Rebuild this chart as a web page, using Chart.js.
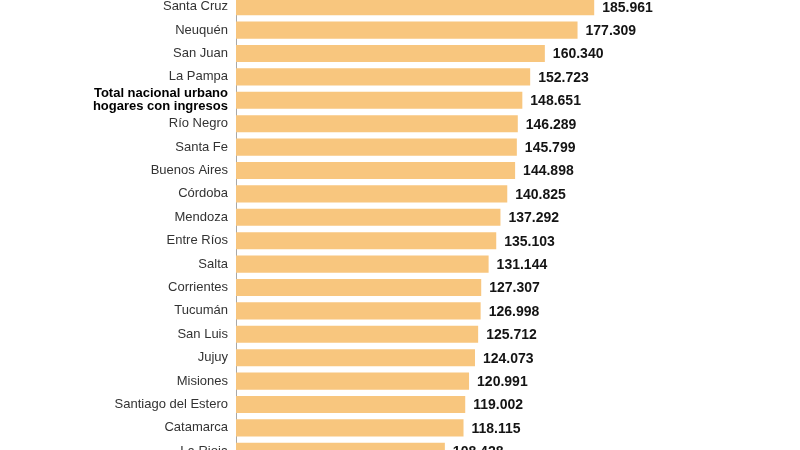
<!DOCTYPE html>
<html>
<head>
<meta charset="utf-8">
<script src="https://cdn.jsdelivr.net/npm/chart.js@4"></script>
<style>
  html, body { margin: 0; padding: 0; background: #ffffff; overflow: hidden; width: 800px; height: 450px; }
  #wrap { position: absolute; left: 0; top: -5px; width: 800px; height: 468px; }
</style>
</head>
<body>
<div id="wrap"><canvas id="c"></canvas></div>
<script>
const categories = [
  'Santa Cruz', 'Neuquén', 'San Juan', 'La Pampa',
  ['Total nacional urbano', 'hogares con ingresos'],
  'Río Negro', 'Santa Fe', 'Buenos Aires', 'Córdoba', 'Mendoza',
  'Entre Ríos', 'Salta', 'Corrientes', 'Tucumán', 'San Luis',
  'Jujuy', 'Misiones', 'Santiago del Estero', 'Catamarca', 'La Rioja'
];
const values = [
  185.961, 177.309, 160.340, 152.723, 148.651,
  146.289, 145.799, 144.898, 140.825, 137.292,
  135.103, 131.144, 127.307, 126.998, 125.712,
  124.073, 120.991, 119.002, 118.115, 108.428
];
const valueLabels = [
  '185.961', '177.309', '160.340', '152.723', '148.651',
  '146.289', '145.799', '144.898', '140.825', '137.292',
  '135.103', '131.144', '127.307', '126.998', '125.712',
  '124.073', '120.991', '119.002', '118.115', '108.428'
];
const highlightIndex = 4;

const valuePlugin = {
  id: 'valueLabels',
  afterDatasetsDraw(chart) {
    const ctx = chart.ctx;
    const meta = chart.getDatasetMeta(0);
    ctx.save();
    ctx.font = 'bold 14px "Liberation Sans", Arial, sans-serif';
    ctx.fillStyle = '#141414';
    ctx.textAlign = 'left';
    ctx.textBaseline = 'middle';
    meta.data.forEach((bar, i) => {
      ctx.fillText(valueLabels[i], bar.x + 8, bar.y + 1);
    });
    ctx.restore();
  }
};

new Chart(document.getElementById('c'), {
  type: 'bar',
  data: {
    labels: categories,
    datasets: [{
      data: values,
      backgroundColor: '#F8C67E',
      borderWidth: 0,
      barPercentage: 0.73,
      categoryPercentage: 1.0
    }]
  },
  options: {
    indexAxis: 'y',
    responsive: true,
    maintainAspectRatio: false,
    animation: false,
    layout: { padding: 0 },
    plugins: { legend: { display: false }, tooltip: { enabled: false } },
    scales: {
      x: { display: false, min: 0, max: 292.8 },
      y: {
        afterFit(scale) {
          scale.width = 236;
          scale.paddingTop = 0;
          scale.paddingBottom = 0;
        },
        grid: { display: false, drawTicks: false },
        border: { display: true, color: '#a8a8a8', width: 1 },
        ticks: {
          padding: 8,
          autoSkip: false,
          color: (c) => c.index === highlightIndex ? '#000000' : '#333333',
          font: (c) => c.index === highlightIndex
            ? { family: '"Liberation Sans", Arial, sans-serif', size: 13, weight: 'bold', lineHeight: 1.0 }
            : { family: '"Liberation Sans", Arial, sans-serif', size: 13, weight: 'normal', lineHeight: 1.0 }
        }
      }
    }
  },
  plugins: [valuePlugin]
});
</script>
</body>
</html>
